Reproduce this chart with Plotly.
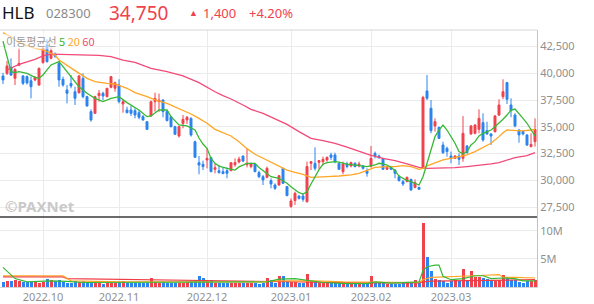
import plotly.graph_objects as go

# ---------------- data ----------------
candle_idx = list(range(134))
opens = [39750, 40000, 40560, 39530, 40750, 39750, 39690, 39310, 39380, 38900,
         41000, 42650, 41400, 41750, 40930, 39440, 38440, 39060, 38280, 38190,
         39530, 37820, 36420, 36260, 37910, 38130, 37820, 38690, 38600, 38910,
         37130, 36570, 36570, 36510, 36320, 35950, 35480, 36010, 37350, 37350,
         37510, 36420, 35950, 35010, 34140, 35320, 35640, 35790, 33610, 31650,
         31490, 31900, 32120, 31030, 30900, 30810, 30900, 30900, 31460, 31710,
         32270, 31460, 31280, 31520, 30720, 30340, 30280, 29970, 29560, 29560,
         31120, 29410, 27540, 28100, 28530, 28530, 28000, 31590, 31590, 31680,
         31740, 31900, 32370, 32370, 31590, 30810, 31530, 31340, 31590, 31340,
         31340, 30900, 31280, 32520, 32270, 32050, 31030, 31210, 30960, 30340,
         29880, 29880, 30090, 29340, 29340, 31120, 38350, 36730, 35080, 34950,
         33300, 32990, 32270, 32050, 32270, 32050, 33210, 34330, 34390, 34760,
         35390, 34640, 34330, 34550, 36100, 37820, 39130, 37040, 36100, 34700,
         34580, 34240, 33150, 33610]
highs = [40050, 41150, 41400, 40460, 42330, 39840, 39800, 39690, 39750, 40550,
         42450, 43170, 42400, 41950, 41090, 39690, 38910, 39840, 38750, 39840,
         40000, 37900, 36630, 37900, 38440, 38280, 38600, 39750, 39220, 39440,
         37500, 36880, 36950, 36730, 36570, 36100, 35500, 37450, 38190, 38100,
         37570, 36500, 36000, 35100, 35100, 36100, 36010, 35890, 33700, 32270,
         31840, 32990, 32200, 31590, 31430, 31210, 31210, 31650, 32050, 32210,
         32300, 32960, 31650, 31550, 30900, 30500, 31280, 30190, 29720, 30500,
         31150, 29450, 28320, 28940, 28600, 28780, 31740, 31800, 33080, 31900,
         32210, 32210, 32580, 32580, 31650, 31740, 31740, 31740, 31680, 31740,
         31400, 31120, 33210, 32680, 32400, 32100, 31280, 31340, 31030, 30500,
         30030, 30340, 30150, 30090, 29400, 37900, 39840, 37500, 35790, 35000,
         33610, 33150, 32680, 32350, 32520, 36000, 33300, 35150, 35250, 36630,
         36260, 35480, 34400, 36100, 37570, 39440, 39200, 37660, 36260, 34760,
         34700, 34300, 34390, 35790]
lows = [39000, 39840, 39750, 38900, 40680, 38900, 38950, 37660, 39250, 38850,
        40900, 41000, 41300, 41450, 38750, 38750, 37190, 38600, 37040, 38100,
        37660, 36880, 35480, 36200, 37350, 37500, 37750, 38600, 38280, 37190,
        36320, 36260, 36010, 35790, 35700, 35570, 34700, 35950, 36420, 36400,
        35890, 35500, 34950, 34250, 34000, 34860, 35260, 34080, 32100, 30560,
        30960, 31120, 30750, 30650, 30620, 30590, 30190, 30850, 31260, 31590,
        31700, 31210, 31120, 30750, 30200, 29560, 30190, 29250, 29100, 29500,
        29650, 28500, 27440, 27690, 28200, 28000, 27910, 30960, 30900, 31060,
        31430, 31740, 31900, 31590, 30970, 30560, 31120, 31210, 31210, 31210,
        31000, 30340, 31210, 32050, 32000, 30970, 30970, 30960, 30190, 29880,
        29470, 29820, 29000, 29250, 29100, 31060, 37500, 34390, 34550, 33850,
        32460, 32210, 31590, 31990, 31430, 31740, 32500, 34250, 34300, 34390,
        33610, 34250, 33300, 34450, 36010, 37570, 37130, 35890, 34950, 33520,
        34200, 33200, 33080, 33150]
closes = [39380, 40680, 39840, 40370, 40930, 39060, 39100, 38750, 39620, 40460,
          42330, 41090, 42120, 41600, 39380, 38910, 38130, 38810, 37660, 39750,
          37820, 36950, 35640, 37820, 38130, 37880, 38600, 39690, 39120, 37350,
          37350, 36320, 36260, 36100, 35890, 35640, 34760, 37350, 37660, 37500,
          36420, 35580, 35010, 34300, 35010, 35700, 35890, 34230, 32150, 31430,
          31280, 32050, 30810, 31180, 30720, 30620, 30650, 31650, 31650, 31990,
          31800, 31590, 31520, 30810, 30340, 30030, 31120, 29660, 29250, 30430,
          29720, 28570, 28070, 28780, 28300, 28220, 31280, 31740, 31120, 31840,
          31960, 32150, 32150, 31740, 31030, 31530, 31280, 31650, 31280, 31530,
          31120, 30650, 32050, 32270, 32120, 31030, 31210, 31030, 30650, 29970,
          29660, 30280, 29100, 29780, 29160, 37750, 37660, 34640, 35480, 33920,
          32580, 32680, 32050, 32270, 31960, 34390, 32580, 35080, 35170, 35790,
          33770, 34330, 34140, 36010, 37040, 38280, 37570, 36510, 35080, 34240,
          34330, 33300, 33350, 34750]
volumes_m = [0.9, 1.0, 1.1, 1.2, 1.0, 0.9, 0.9, 0.9, 0.9, 0.8,
             0.9, 1.4, 1.2, 1.0, 1.3, 0.9, 0.8, 0.8, 1.0, 0.9,
             1.0, 0.8, 0.7, 0.8, 0.7, 0.6, 0.7, 0.8, 0.7, 0.9,
             1.0, 0.8, 0.7, 0.7, 0.7, 0.8, 0.8, 1.6, 0.9, 0.8,
             0.9, 0.8, 0.8, 0.7, 0.8, 0.8, 0.9, 1.0, 1.2, 2.0,
             1.6, 1.1, 1.2, 0.8, 0.7, 0.7, 0.8, 0.8, 0.7, 0.7,
             0.7, 0.8, 0.7, 0.7, 0.6, 0.7, 1.6, 1.3, 0.8, 1.9,
             1.9, 1.0, 0.9, 0.9, 0.7, 0.7, 2.4, 1.0, 0.9, 0.8,
             0.8, 0.7, 0.7, 0.8, 0.8, 0.7, 0.7, 0.6, 0.6, 0.5,
             0.5, 0.5, 2.0, 0.8, 0.7, 0.7, 0.6, 0.6, 0.6, 0.6,
             0.7, 0.8, 0.7, 1.3, 0.8, 11.3, 5.4, 2.9, 1.5, 1.3,
             1.0, 0.8, 1.0, 1.2, 1.1, 3.2, 1.3, 2.8, 1.8, 1.8,
             1.6, 1.4, 1.1, 1.0, 1.2, 2.2, 1.6, 1.2, 1.3, 0.9,
             0.8, 1.0, 1.1, 1.2]

ma5_idx = [0, 2, 3, 4, 6, 8, 9, 10, 12, 14, 15, 17, 19, 21, 23, 25, 27, 29, 31, 34,
           36, 37, 39, 41, 42, 44, 46, 48, 49, 50, 51, 52, 53, 54, 55, 56, 58, 59, 61, 63,
           64, 66, 67, 69, 71, 72, 73, 74, 75, 76, 77, 78, 79, 80, 81, 83, 84, 86, 88, 89,
           91, 93, 94, 95, 96, 97, 98, 99, 100, 101, 102, 103, 104, 105, 106, 107, 108, 109, 110, 111,
           112, 113, 114, 115, 116, 117, 118, 119, 120, 121, 122, 123, 124, 125, 126, 127, 128, 129, 130, 131,
           132, 133]
ma5_val = [43000, 40150, 40060, 40150, 40000, 39620, 39530, 39840, 40780, 41090, 40620, 39690, 38750, 38130, 37660, 37350, 37660, 37820, 37260, 36570,
           35950, 36010, 36570, 36570, 35950, 35170, 35080, 34700, 33950, 33390, 32990, 32050, 31590, 31330, 31210, 31120, 30960, 31250, 31590, 31590,
           31200, 30650, 30340, 30190, 29720, 29400, 29150, 28840, 28720, 28930, 29660, 30400, 31000, 31500, 31650, 31740, 31700, 31520, 31430, 31340,
           31280, 31430, 31590, 31530, 31430, 31210, 30900, 30400, 30190, 29970, 29870, 29720, 29560, 30340, 31590, 32990, 34080, 34700, 35170, 34700,
           34080, 33460, 32680, 32460, 32680, 33300, 33610, 34140, 34390, 34550, 34700, 35010, 35330, 35700, 36100, 36570, 36660, 36260, 35790, 35330,
           34700, 34140]
ma20_idx = [0, 2, 4, 8, 10, 13, 14, 16, 18, 21, 23, 26, 28, 31, 33, 36, 38, 41, 43, 46,
            47, 49, 51, 53, 55, 57, 59, 61, 63, 65, 67, 69, 71, 73, 75, 77, 79, 81, 84, 87,
            89, 91, 93, 96, 98, 100, 102, 104, 105, 106, 108, 110, 112, 114, 116, 118, 120, 122, 124, 125,
            126, 128, 130, 132, 133]
ma20_val = [43800, 43420, 42860, 42330, 42180, 41710, 41240, 40780, 40250, 39530, 39220, 39060, 39000, 38600, 38190, 37820, 37510, 37190, 36880, 36400,
            36200, 35790, 35330, 34760, 34480, 34140, 33610, 32960, 32430, 32050, 31680, 31340, 30960, 30750, 30560, 30280, 30280, 30340, 30400, 30500,
            30650, 30900, 31210, 31280, 31280, 31370, 31280, 31030, 31120, 31340, 31650, 31900, 32050, 32210, 32370, 32680, 33080, 33460, 34080, 34450,
            34700, 34640, 34610, 34700, 34760]
ma60_idx = [1, 4, 8, 10, 12, 16, 20, 24, 27, 30, 33, 37, 41, 45, 49, 51, 53, 55, 57, 60,
            62, 65, 68, 71, 74, 77, 80, 83, 86, 89, 92, 95, 98, 101, 104, 106, 110, 113, 116, 119,
            122, 124, 126, 128, 131, 133]
ma60_val = [40310, 40840, 41310, 41620, 41800, 41770, 41770, 41680, 41550, 41240, 41030, 40470, 40150, 39750, 39130, 38690, 38280, 37910, 37600, 37040,
            36630, 36260, 35760, 35230, 34550, 33920, 33700, 33460, 33100, 32700, 32330, 32050, 31840, 31530, 31210, 31120, 31120, 31180, 31280, 31370,
            31530, 31650, 31900, 32120, 32300, 32580]

vma5_idx = [0, 3, 6, 12, 16, 20, 66, 69, 73, 77, 80, 86, 91, 93, 97, 104, 105, 106, 107, 108,
            109, 110, 112, 115, 118, 120, 122, 125, 128, 130, 133]
vma5_val = [3.5, 1.5, 0.9, 1.1, 1.0, 0.8, 0.9, 1.4, 1.5, 1.1, 0.8, 0.6, 0.6, 0.9, 0.7, 0.9, 2.9, 3.6, 3.8, 3.9,
            3.9, 1.9, 1.3, 1.5, 2.0, 2.0, 1.5, 1.6, 1.5, 1.1, 1.1]
vma20_idx = [0, 15, 17, 30, 65, 68, 78, 85, 104, 105, 107, 112, 118, 124, 125, 128, 133]
vma20_val = [2.0, 2.0, 1.1, 0.9, 0.9, 1.1, 1.1, 0.9, 0.8, 1.3, 1.7, 1.8, 2.0, 2.2, 1.7, 1.7, 1.6]
vma60_idx = [0, 15, 16, 40, 55, 70, 90, 104, 105, 107, 133]
vma60_val = [1.8, 1.8, 1.5, 1.25, 1.05, 0.9, 0.75, 0.72, 0.92, 1.05, 1.3]

month_idx = [10, 29, 51, 72, 92, 112]
month_labels = ["2022.10", "2022.11", "2022.12", "2023.01", "2023.02", "2023.03"]
price_ticks = [27500, 30000, 32500, 35000, 37500, 40000, 42500]
vol_ticks = [5e6, 10e6]
vol_tick_labels = ["5M", "10M"]

# ---------------- style ----------------
RED = "#f0424c"
BLUE = "#2b84ef"
GREEN = "#35b935"
ORANGE = "#ffa625"
PINK = "#f24a78"
VRED = "#f03c44"
GRID = "#ebebeb"
TXT = "#8f8f8f"
FONT = "Noto Sans"

W, H = 594, 304
ML, MR, MT, MB = 0, 57, 30, 17
PW, PH = W - ML - MR, H - MT - MB
split = (H - MB - 217) / PH  # volume panel share


def px(xp):
    return (xp - ML) / PW


def py(yp):
    return (H - MB - yp) / PH


fig = go.Figure()

fig.add_trace(go.Candlestick(
    x=candle_idx, open=opens, high=highs, low=lows, close=closes,
    increasing=dict(line=dict(color=RED, width=1), fillcolor=RED),
    decreasing=dict(line=dict(color=BLUE, width=1), fillcolor=BLUE),
    whiskerwidth=0, xaxis="x", yaxis="y", hoverinfo="skip"))

for xs, ys, col in [(ma60_idx, ma60_val, PINK), (ma20_idx, ma20_val, ORANGE), (ma5_idx, ma5_val, GREEN)]:
    fig.add_trace(go.Scatter(x=xs, y=ys, mode="lines", line=dict(color=col, width=1.3),
                             xaxis="x", yaxis="y", hoverinfo="skip"))

vol = [v * 1e6 for v in volumes_m]
vcol = [RED if c >= o else BLUE for o, c in zip(opens, closes)]
fig.add_trace(go.Bar(x=candle_idx, y=vol, marker=dict(color=vcol, line=dict(width=0)),
                     width=0.75, xaxis="x", yaxis="y2", hoverinfo="skip"))
for xs, ys, col in [(vma60_idx, vma60_val, VRED), (vma20_idx, vma20_val, ORANGE), (vma5_idx, vma5_val, GREEN)]:
    fig.add_trace(go.Scatter(x=xs, y=[v * 1e6 for v in ys], mode="lines",
                             line=dict(color=col, width=1.2), xaxis="x", yaxis="y2", hoverinfo="skip"))

fig.update_layout(
    width=W, height=H,
    margin=dict(l=ML, r=MR, t=MT, b=MB, pad=0),
    paper_bgcolor="white", plot_bgcolor="white",
    showlegend=False,
    font=dict(family=FONT, size=11, color=TXT),
    xaxis=dict(domain=[0, 1], anchor="y2", range=[-0.75, 133.5],
               tickvals=month_idx, ticktext=month_labels, ticks="",
               showgrid=True, gridcolor=GRID, gridwidth=1, zeroline=False,
               showline=True, linecolor="#d6d6d6", linewidth=1,
               tickfont=dict(family=FONT, size=11, color=TXT),
               rangeslider=dict(visible=False)),
    yaxis=dict(domain=[split, 1], side="right", anchor="x", range=[26570, 44047],
               tickvals=price_ticks, tickformat=",", ticks="",
               showgrid=True, gridcolor=GRID, zeroline=False,
               showline=True, linecolor="#c4c4c4", linewidth=1,
               tickfont=dict(family=FONT, size=11, color=TXT)),
    yaxis2=dict(domain=[0, split], side="right", anchor="x", range=[0, 12.45e6],
                tickvals=vol_ticks, ticktext=vol_tick_labels, ticks="",
                showgrid=True, gridcolor=GRID, zeroline=False,
                showline=True, linecolor="#c4c4c4", linewidth=1,
                tickfont=dict(family=FONT, size=11, color=TXT)),
    bargap=0,
)

# panel borders
fig.add_shape(type="line", xref="paper", yref="paper", x0=0, x1=1, y0=1, y1=1,
              line=dict(color="#d6d6d6", width=1))
fig.add_shape(type="line", xref="paper", yref="paper", x0=0, x1=1, y0=split, y1=split,
              line=dict(color="#3a3a3a", width=1.5))

# header
ann = [
    dict(text="HLB", x=px(1), y=py(12), font=dict(size=17, color="#111111")),
    dict(text="028300", x=px(45), y=py(12.5), font=dict(size=13, color="#8a8a8a")),
    dict(text="34,750", x=px(108), y=py(12.5), font=dict(size=19, color=RED)),
    dict(text="▲", x=px(188), y=py(12), font=dict(size=9, color=RED)),
    dict(text="1,400", x=px(202), y=py(12.5), font=dict(size=13, color=RED)),
    dict(text="+4.20%", x=px(248), y=py(12.5), font=dict(size=13, color=RED)),
    dict(text="이동평균선 <span style='color:%s'>5</span> <span style='color:%s'>20</span> <span style='color:%s'>60</span>"
         % (GREEN, ORANGE, PINK),
         x=px(5), y=py(41), font=dict(size=11, color="#9a9a9a", family="Noto Sans CJK KR"),
         bgcolor="rgba(255,255,255,0.55)"),
    dict(text="<b>©PAXNet</b>", x=px(4), y=py(206), font=dict(size=15, color="#c9c9c9")),
]
for a in ann:
    fig.add_annotation(xref="paper", yref="paper", xanchor="left", yanchor="middle",
                       showarrow=False, borderpad=0, **a)

fig.write_html("out.html")
